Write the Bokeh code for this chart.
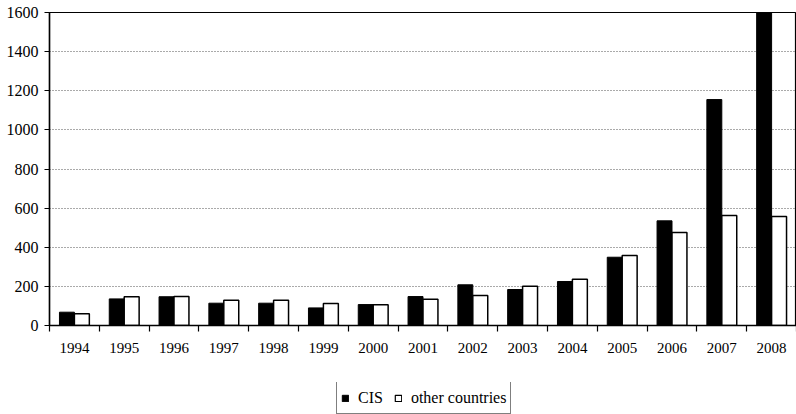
from bokeh.plotting import figure
from bokeh.layouts import column
from bokeh.models import (ColumnDataSource, FixedTicker, Legend, LegendItem, Range1d)
from bokeh.embed import file_html
from bokeh.resources import INLINE

years = ["1994", "1995", "1996", "1997", "1998", "1999", "2000", "2001",
         "2002", "2003", "2004", "2005", "2006", "2007", "2008"]
cis = [68, 136, 147, 114, 114, 90, 107, 148, 208, 184, 225, 349, 535, 1155, 1700]
other_countries = [60, 147, 148, 129, 129, 112, 106, 134, 153, 201, 237, 358, 475, 562, 557]
y_ticks = [0, 200, 400, 600, 800, 1000, 1200, 1400, 1600]
series_names = ["CIS", "other countries"]

FONT = "Liberation Serif"
BAR_W = 0.3

xpos = [i + 1 for i in range(len(years))]
src = ColumnDataSource(dict(
    x_cis=[x - BAR_W / 2 for x in xpos],
    x_oth=[x + BAR_W / 2 for x in xpos],
    cis=cis,
    oth=other_countries,
))

main = figure(width=796, height=382, output_backend="svg", toolbar_location=None,
              x_range=Range1d(0.5, len(years) + 0.5), y_range=Range1d(0, 1600),
              min_border_left=49, min_border_right=0, min_border_top=12, min_border_bottom=57)

main.vbar(x="x_cis", top="cis", width=BAR_W, source=src,
          fill_color="black", line_color="black", line_width=1)
main.vbar(x="x_oth", top="oth", width=BAR_W, source=src,
          fill_color="white", line_color="black", line_width=1.5)

main.outline_line_color = "black"
main.outline_line_width = 1.2
main.background_fill_color = "white"
main.border_fill_color = "white"

# x axis: labels at centres, ticks at boundaries
xa = main.xaxis[0]
xa.ticker = FixedTicker(ticks=xpos, minor_ticks=[x - 0.5 for x in xpos] + [xpos[-1] + 0.5])
xa.major_label_overrides = {x: y for x, y in zip(xpos, years)}
xa.major_tick_out = 0
xa.major_tick_in = 0
xa.minor_tick_out = 6
xa.minor_tick_in = 0
xa.minor_tick_line_color = "black"
xa.minor_tick_line_width = 1.2
xa.major_label_standoff = 11
xa.axis_line_color = "black"
xa.axis_line_width = 1.5
xa.major_label_text_font = FONT
xa.major_label_text_font_size = "15px"
xa.major_label_text_color = "black"

ya = main.yaxis[0]
ya.ticker = FixedTicker(ticks=y_ticks)
ya.minor_tick_line_color = None
ya.major_tick_out = 5
ya.major_tick_in = 0
ya.major_tick_line_color = "black"
ya.major_tick_line_width = 1.2
ya.major_label_standoff = 6
ya.axis_line_color = "black"
ya.axis_line_width = 1.5
ya.major_label_text_font = FONT
ya.major_label_text_font_size = "16px"
ya.major_label_text_color = "black"

main.xgrid.grid_line_color = None
main.ygrid.ticker = FixedTicker(ticks=y_ticks)
main.ygrid.grid_line_color = "#555555"
main.ygrid.grid_line_dash = "1 2"
main.ygrid.grid_line_width = 1

# legend strip (proxy glyphs lie outside the strip's visible range)
leg = figure(width=796, height=32, output_backend="svg", toolbar_location=None,
             x_axis_type=None, y_axis_type=None,
             x_range=Range1d(0, 1), y_range=Range1d(0, 1),
             min_border_left=0, min_border_right=0, min_border_top=0, min_border_bottom=0)
leg.grid.visible = False
leg.outline_line_color = None
leg.background_fill_color = "white"
leg.border_fill_color = "white"
proxy = ColumnDataSource(dict(x=[-5], top=[-5], bottom=[-6]))
lr1 = leg.vbar(x="x", top="top", bottom="bottom", width=0.1, source=proxy,
               fill_color="black", line_color="black", line_width=1)
lr2 = leg.vbar(x="x", top="top", bottom="bottom", width=0.1, source=proxy,
               fill_color="white", line_color="black", line_width=1.2)

legend = Legend(items=[LegendItem(label=series_names[0], renderers=[lr1]),
                       LegendItem(label=series_names[1], renderers=[lr2])],
                orientation="horizontal", location=(287, 0),
                glyph_width=8, glyph_height=8, label_standoff=9, spacing=11,
                padding=4, margin=0, label_height=23,
                border_line_color="black", border_line_width=1,
                background_fill_color="white", background_fill_alpha=1,
                label_text_font=FONT, label_text_font_size="16px",
                label_text_color="black")
leg.add_layout(legend, "center")

p = column(main, leg, spacing=0)

open("out.html", "w").write(file_html(p, INLINE))
